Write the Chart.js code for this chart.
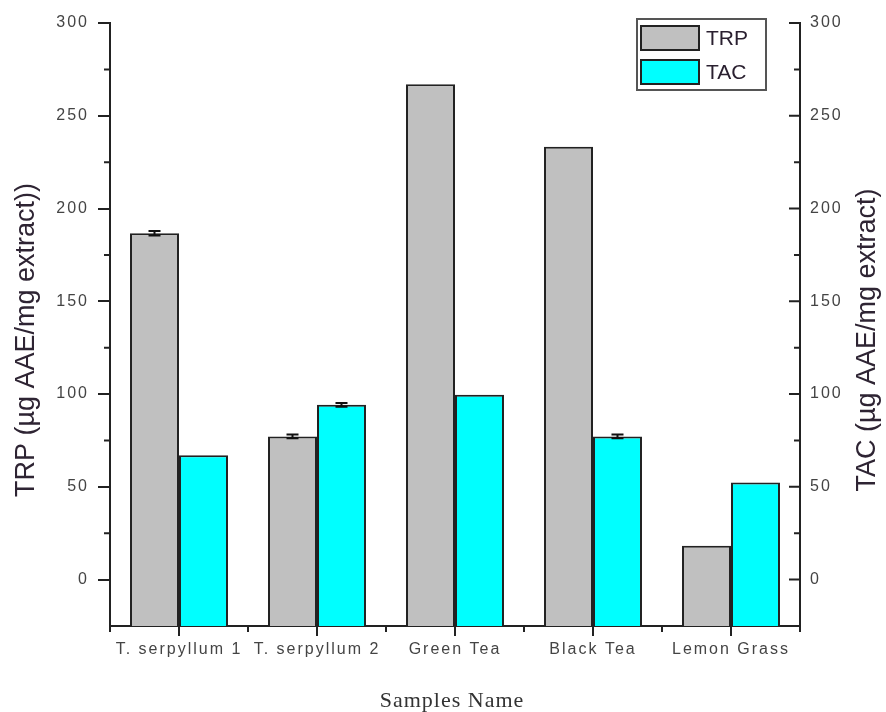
<!DOCTYPE html>
<html>
<head>
<meta charset="utf-8">
<script src="https://cdn.jsdelivr.net/npm/chart.js@4/dist/chart.umd.min.js"></script>
<style>
  html, body { margin: 0; padding: 0; background: #fff; }
  #wrap { width: 886px; height: 712px; }
</style>
</head>
<body>
<div id="wrap"><canvas id="chart" width="886" height="712"></canvas></div>
<script>
'use strict';

const CATEGORIES = ['T. serpyllum 1', 'T. serpyllum 2', 'Green Tea', 'Black Tea', 'Lemon Grass'];
const TRP        = [186.7, 77.2, 267.0, 233.3, 18.3];
const TAC        = [67.0, 94.2, 99.6, 77.2, 52.4];
const TRP_ERR    = [1.2, 1.0, 0, 0, 0];
const TAC_ERR    = [0, 1.0, 0, 1.0, 0];
const Y_TICKS    = [0, 50, 100, 150, 200, 250, 300];
const Y_MIN = -25;
const Y_MAX = 300;

const INK = '#222';

// minor ticks, inward right-axis ticks, boundary ticks on x
const axisTicks = {
  id: 'axisTicks',
  beforeDraw(chart) {
    chart.ctx.letterSpacing = '2px';
  },
  afterDraw(chart) {
    const { ctx, chartArea: a, scales } = chart;
    const y = scales.y;
    ctx.save();
    ctx.letterSpacing = '0px';
    ctx.strokeStyle = INK;
    ctx.lineWidth = 2;
    ctx.beginPath();
    // minor ticks, both sides
    for (let i = 0; i < Y_TICKS.length - 1; i++) {
      const v = (Y_TICKS[i] + Y_TICKS[i + 1]) / 2;
      const py = y.getPixelForValue(v);
      ctx.moveTo(a.left - 6, py); ctx.lineTo(a.left, py);
      ctx.moveTo(a.right - 6, py); ctx.lineTo(a.right, py);
    }
    // right major ticks (inward)
    Y_TICKS.forEach((v) => {
      const py = y.getPixelForValue(v);
      ctx.moveTo(a.right - 11, py); ctx.lineTo(a.right, py);
    });
    // x boundary ticks
    for (let i = 0; i <= CATEGORIES.length; i++) {
      const px = a.left + (a.right - a.left) * i / CATEGORIES.length;
      ctx.moveTo(px, a.bottom); ctx.lineTo(px, a.bottom + 6);
    }
    ctx.stroke();

    // axis titles
    ctx.fillStyle = '#2e2433';
    ctx.font = '27px "Liberation Sans", Arial, sans-serif';
    ctx.textAlign = 'center';
    ctx.textBaseline = 'middle';
    ctx.save();
    ctx.translate(27, 340);
    ctx.rotate(-Math.PI / 2);
    ctx.fillText('TRP (µg AAE/mg extract))', 0, 0);
    ctx.restore();
    ctx.save();
    ctx.translate(868, 340);
    ctx.rotate(-Math.PI / 2);
    ctx.fillText('TAC (µg AAE/mg extract)', 0, 0);
    ctx.restore();

    ctx.fillStyle = '#333';
    ctx.letterSpacing = '1px';
    ctx.font = '22px "Liberation Serif", "Times New Roman", serif';
    ctx.fillText('Samples Name', 452, 701);
    ctx.letterSpacing = '0px';

    // legend
    const lx = 637, ly = 19, lw = 129, lh = 71;
    ctx.fillStyle = '#fff';
    ctx.fillRect(lx, ly, lw, lh);
    ctx.strokeStyle = '#555';
    ctx.lineWidth = 2;
    ctx.strokeRect(lx, ly, lw, lh);
    const items = [[TRP_SET.label, TRP_SET.backgroundColor, 26], [TAC_SET.label, TAC_SET.backgroundColor, 60]];
    items.forEach(([label, color, top]) => {
      ctx.fillStyle = color;
      ctx.fillRect(641, top, 58, 24);
      ctx.strokeStyle = INK;
      ctx.strokeRect(641, top, 58, 24);
      ctx.fillStyle = '#2a2030';
      ctx.font = '21px "Liberation Sans", Arial, sans-serif';
      ctx.textAlign = 'left';
      ctx.fillText(label, 706, top + 13);
    });
    ctx.restore();
  },
  afterDatasetsDraw(chart) {
    const { ctx } = chart;
    ctx.save();
    ctx.strokeStyle = '#111';
    ctx.lineWidth = 2;
    [TRP_ERR, TAC_ERR].forEach((errs, di) => {
      const meta = chart.getDatasetMeta(di);
      const scale = chart.scales[meta.yAxisID];
      const vals = chart.data.datasets[di].data;
      meta.data.forEach((bar, i) => {
        if (!errs[i]) return;
        const top = scale.getPixelForValue(vals[i] + errs[i]);
        const bot = scale.getPixelForValue(vals[i] - errs[i]);
        ctx.beginPath();
        ctx.moveTo(bar.x, top); ctx.lineTo(bar.x, bot);
        ctx.moveTo(bar.x - 6, top); ctx.lineTo(bar.x + 6, top);
        ctx.moveTo(bar.x - 6, bot); ctx.lineTo(bar.x + 6, bot);
        ctx.stroke();
      });
    });
    ctx.restore();
  },
};

const TRP_SET = {
  label: 'TRP',
  data: TRP,
  yAxisID: 'y',
  backgroundColor: '#c0c0c0',
  borderColor: INK,
  borderWidth: 2,
  base: Y_MIN,
  barPercentage: 1,
  categoryPercentage: 0.71,
};
const TAC_SET = {
  label: 'TAC',
  data: TAC,
  yAxisID: 'y2',
  backgroundColor: '#00ffff',
  borderColor: INK,
  borderWidth: 2,
  base: Y_MIN,
  barPercentage: 1,
  categoryPercentage: 0.71,
};

const tickFont = { family: '"Liberation Sans", Arial, sans-serif', size: 16 };

new Chart(document.getElementById('chart'), {
  type: 'bar',
  data: { labels: CATEGORIES, datasets: [TRP_SET, TAC_SET] },
  options: {
    responsive: false,
    animation: false,
    layout: { padding: { top: 23, left: 0, right: 0, bottom: 0 } },
    plugins: { legend: { display: false }, tooltip: { enabled: false } },
    scales: {
      x: {
        offset: true,
        grid: { offset: false, drawOnChartArea: false, drawTicks: true, tickLength: 10, color: INK, lineWidth: 2 },
        border: { display: true, color: INK, width: 2 },
        ticks: { color: '#444', font: tickFont, padding: 4, maxRotation: 0, autoSkip: false },
        afterFit: (s) => { s.height = 86; },
      },
      y: {
        position: 'left',
        min: Y_MIN, max: Y_MAX,
        afterBuildTicks: (s) => { s.ticks = Y_TICKS.map((v) => ({ value: v })); },
        grid: { drawOnChartArea: false, drawTicks: true, tickLength: 12, color: INK, lineWidth: 2 },
        border: { display: true, color: INK, width: 2 },
        ticks: { color: '#444', font: tickFont, padding: 9 },
        afterFit: (s) => { s.width = 110; },
      },
      y2: {
        position: 'right',
        min: Y_MIN, max: Y_MAX,
        afterBuildTicks: (s) => { s.ticks = Y_TICKS.map((v) => ({ value: v })); },
        grid: { drawOnChartArea: false, drawTicks: false },
        border: { display: true, color: INK, width: 2 },
        ticks: { color: '#444', font: tickFont, padding: 10 },
        afterFit: (s) => { s.width = 86; },
      },
    },
  },
  plugins: [axisTicks],
});
</script>
</body>
</html>
